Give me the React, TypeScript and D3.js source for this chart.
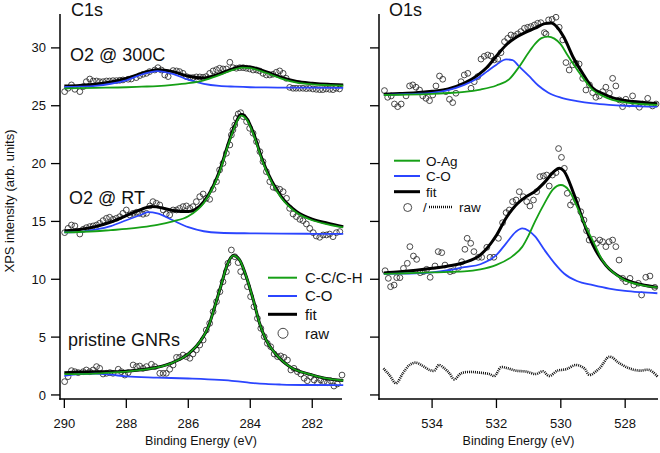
import React from "react";
import * as d3 from "d3";

type P = [number, number];

// ---------- ticks ----------
const c1sTicks = [290, 288, 286, 284, 282];
const o1sTicks = [534, 532, 530, 528];
const yTicks = [0, 5, 10, 15, 20, 25, 30];

// ---------- C1s : O2 @ 300C ----------
const c300Raw: P[] = [
  [289.99, 26.22], [289.88, 26.51], [289.77, 26.8], [289.66, 26.42], [289.5, 26.22], [289.39, 26.65],
  [289.29, 27.08], [289.18, 27.31], [289.07, 27.14], [288.96, 27.14], [288.86, 27.08], [288.75, 27.08],
  [288.64, 27.14], [288.54, 27.14], [288.43, 27.17], [288.32, 27.17], [288.21, 27.2], [288.11, 27.23],
  [287.94, 27.29], [287.84, 27.31], [287.68, 27.43], [287.57, 27.6], [287.46, 27.72], [287.35, 27.8],
  [287.25, 27.95], [287.08, 28.09], [286.98, 28.29], [286.87, 28.09], [286.76, 27.66], [286.65, 27.52],
  [286.49, 28.04], [286.38, 28.01], [286.28, 27.95], [286.17, 27.8], [286.06, 27.52], [285.95, 27.43],
  [285.85, 27.43], [285.74, 27.49], [285.63, 27.49], [285.52, 27.46], [285.42, 27.52], [285.31, 27.8],
  [285.2, 28.01], [285.09, 28.12], [284.99, 28.24], [284.88, 28.18], [284.77, 28.18], [284.66, 28.76],
  [284.56, 28.29], [284.45, 28.24], [284.34, 28.29], [284.23, 28.29], [284.13, 28.24], [284.02, 28.18],
  [283.91, 28.09], [283.8, 28.09], [283.7, 28.01], [283.59, 27.8], [283.48, 27.66], [283.37, 27.66],
  [283.27, 27.72], [283.16, 27.89], [283.05, 28.01], [282.94, 27.8], [282.84, 27.37], [282.73, 26.59],
  [282.62, 26.51], [282.52, 26.51], [282.41, 26.51], [282.3, 26.51], [282.19, 26.48], [282.09, 26.51],
  [281.98, 26.45], [281.87, 26.42], [281.76, 26.39], [281.66, 26.39], [281.55, 26.45], [281.44, 26.42],
  [281.33, 26.39], [281.23, 26.51], [281.12, 26.45],
];
const c300Fit: P[] = [
  [290, 26.7], [289.5, 26.75], [289, 26.85], [288.5, 27.05], [288, 27.35], [287.5, 27.8], [287, 28.12],
  [286.5, 27.95], [286, 27.55], [285.5, 27.4], [285, 27.75], [284.5, 28.25], [284.25, 28.4], [284, 28.35],
  [283.5, 27.95], [283, 27.45], [282.5, 27.1], [282, 26.95], [281.5, 26.85], [281, 26.8],
];
const c300CC: P[] = [
  [290, 26.5], [289, 26.55], [288, 26.6], [287.5, 26.65], [287, 26.7], [286.5, 26.8], [286, 26.95],
  [285.5, 27.2], [285, 27.65], [284.5, 28.15], [284.25, 28.3], [284, 28.25], [283.5, 27.85], [283, 27.35],
  [282.5, 27.0], [282, 26.85], [281.5, 26.78], [281, 26.73],
];
const c300CO: P[] = [
  [290, 26.62], [289.5, 26.65], [289, 26.72], [288.5, 26.9], [288, 27.2], [287.5, 27.7], [287, 28.0],
  [286.5, 27.75], [286, 27.25], [285.5, 26.9], [285, 26.72], [284.5, 26.65], [284, 26.6], [283.5, 26.58],
  [283, 26.57], [282, 26.56], [281, 26.55],
];

// ---------- C1s : O2 @ RT ----------
const cRtRaw: P[] = [
  [289.99, 14.03], [289.88, 14.4], [289.77, 14.69], [289.66, 14.61], [289.5, 13.91], [289.39, 14.32],
  [289.29, 14.46], [289.18, 14.55], [289.07, 14.61], [288.96, 14.69], [288.86, 14.84], [288.75, 15.07],
  [288.64, 15.27], [288.54, 15.36], [288.43, 15.18], [288.32, 15.27], [288.21, 15.41], [288.11, 15.7],
  [288.0, 15.99], [287.89, 15.56], [287.78, 15.7], [287.67, 15.79], [287.57, 15.7], [287.46, 15.62],
  [287.35, 15.7], [287.24, 16.34], [287.14, 16.71], [287.03, 16.57], [286.92, 16.42], [286.81, 15.99],
  [286.71, 15.64], [286.6, 15.56], [286.49, 15.99], [286.38, 15.99], [286.28, 16.13], [286.17, 16.28],
  [286.06, 16.34], [285.95, 16.13], [285.85, 16.28], [285.74, 16.71], [285.63, 17.14], [285.52, 17.37],
  [285.42, 17.0], [285.31, 16.91], [285.2, 17.78], [285.09, 18.44], [284.99, 19.45], [284.88, 20.02],
  [284.77, 20.89], [284.66, 21.61], [284.61, 22.47], [284.56, 22.91], [284.5, 23.34], [284.45, 23.92],
  [284.39, 24.29], [284.31, 24.4], [284.23, 24.06], [284.12, 23.63], [284.02, 23.05], [283.91, 22.62],
  [283.8, 21.9], [283.69, 21.03], [283.59, 20.17], [283.48, 19.3], [283.37, 18.44], [283.26, 17.95],
  [283.16, 17.86], [283.05, 17.78], [282.94, 17.57], [282.83, 17.0], [282.73, 16.13], [282.62, 15.64],
  [282.51, 15.41], [282.4, 15.18], [282.3, 15.07], [282.19, 14.78], [282.08, 14.4], [281.97, 14.03],
  [281.87, 13.74], [281.76, 13.63], [281.65, 13.83], [281.54, 13.83], [281.44, 13.91], [281.33, 13.68],
  [281.22, 14.03], [281.11, 14.12],
];
const cRtFit: P[] = [
  [290, 14.17], [289.5, 14.3], [289, 14.55], [288.5, 14.95], [288, 15.5], [287.5, 16.05], [287.2, 16.3],
  [287, 16.25], [286.5, 15.95], [286, 15.85], [285.5, 16.7], [285, 19.3], [284.7, 21.8], [284.5, 23.3],
  [284.3, 24.25], [284.1, 23.85], [283.9, 22.65], [283.6, 20.25], [283.3, 18.45], [283, 17.15],
  [282.5, 15.85], [282, 15.2], [281.5, 14.85], [281, 14.55],
];
const cRtCC: P[] = [
  [290, 14.05], [289, 14.15], [288.5, 14.25], [288, 14.35], [287.5, 14.5], [287, 14.7], [286.5, 15.0],
  [286, 15.45], [285.5, 16.6], [285, 19.2], [284.7, 21.7], [284.5, 23.2], [284.3, 24.15], [284.1, 23.75],
  [283.9, 22.55], [283.6, 20.15], [283.3, 18.35], [283, 17.05], [282.5, 15.75], [282, 15.1],
  [281.5, 14.75], [281, 14.48],
];
const cRtCO: P[] = [
  [290, 14.05], [289.5, 14.1], [289, 14.3], [288.5, 14.6], [288, 15.1], [287.5, 15.6], [287.3, 15.8],
  [287, 15.7], [286.5, 15.1], [286, 14.5], [285.5, 14.15], [285, 14.02], [284, 13.97], [283, 13.95],
  [282, 13.93], [281, 13.92],
];

// ---------- C1s : pristine GNRs ----------
const cPrRaw: P[] = [
  [289.99, 1.15], [289.88, 1.58], [289.77, 2.1], [289.66, 2.01], [289.55, 1.93], [289.39, 2.01],
  [289.29, 2.16], [289.18, 2.01], [289.07, 2.16], [288.96, 2.45], [288.86, 2.3], [288.75, 1.81],
  [288.64, 1.87], [288.53, 1.93], [288.43, 1.87], [288.26, 2.22], [288.16, 2.01], [288.05, 1.72],
  [287.94, 1.93], [287.78, 2.59], [287.67, 2.45], [287.57, 2.5], [287.46, 2.3], [287.35, 2.45],
  [287.19, 2.65], [287.08, 2.45], [286.92, 1.87], [286.81, 1.87], [286.71, 1.87], [286.6, 2.22],
  [286.49, 2.59], [286.38, 3.25], [286.28, 3.25], [286.17, 3.45], [286.06, 3.31], [285.95, 3.17],
  [285.85, 3.54], [285.74, 3.89], [285.63, 4.32], [285.52, 4.75], [285.42, 5.61], [285.31, 6.19],
  [285.2, 7.2], [285.09, 8.06], [284.98, 8.93], [284.88, 9.79], [284.77, 10.66], [284.72, 11.38],
  [284.61, 12.53], [284.5, 11.95], [284.39, 11.44], [284.31, 10.66], [284.2, 10.23], [284.09, 9.36],
  [283.99, 8.5], [283.88, 7.63], [283.77, 6.62], [283.66, 5.76], [283.55, 5.04], [283.45, 4.46],
  [283.34, 4.17], [283.23, 3.54], [283.12, 3.31], [283.02, 3.37], [282.91, 3.25], [282.8, 3.02],
  [282.69, 2.16], [282.59, 2.3], [282.48, 2.01], [282.37, 1.81], [282.26, 1.44], [282.16, 1.23],
  [282.05, 1.58], [281.94, 1.29], [281.83, 1.06], [281.73, 1.29], [281.62, 1.15], [281.51, 1.06],
  [281.41, 1.23], [281.3, 0.77], [281.19, 0.95], [281.04, 1.72],
];
const cPrFit: P[] = [
  [290, 1.93], [289.5, 1.98], [289, 2.0], [288.5, 2.0], [288, 2.05], [287.5, 2.18], [287, 2.4],
  [286.5, 2.8], [286, 3.55], [285.6, 4.7], [285.35, 5.9], [285.15, 7.6], [284.95, 9.4], [284.75, 11.2],
  [284.55, 12.05], [284.35, 11.7], [284.15, 10.4], [283.9, 8.2], [283.7, 6.2], [283.5, 4.8], [283.2, 3.6],
  [282.7, 2.4], [282.1, 1.8], [281.6, 1.45], [281, 1.25],
];
const cPrCC: P[] = [
  [290, 1.8], [289, 1.85], [288.5, 1.93], [288, 2.02], [287.5, 2.16], [287, 2.38], [286.5, 2.8],
  [286, 3.55], [285.6, 4.7], [285.35, 5.9], [285.15, 7.6], [284.95, 9.4], [284.75, 11.2], [284.55, 12.05],
  [284.35, 11.7], [284.15, 10.4], [283.9, 8.2], [283.7, 6.2], [283.5, 4.8], [283.2, 3.6], [282.7, 2.4],
  [282.1, 1.8], [281.6, 1.45], [281, 1.25],
];
const cPrCO: P[] = [
  [290, 1.65], [289.5, 1.8], [289, 1.85], [288.5, 1.75], [288, 1.6], [287, 1.5], [286, 1.42],
  [285, 1.3], [284.5, 1.2], [284, 1.05], [283.5, 0.95], [283, 0.9], [282, 0.86], [281, 0.85],
];

// ---------- O1s : top ----------
const oTopRaw: P[] = [
  [535.48, 26.31], [535.38, 25.73], [535.27, 25.85], [535.17, 25.15], [535.07, 24.92], [534.96, 25.15],
  [534.81, 25.85], [534.7, 26.71], [534.6, 26.8], [534.5, 26.6], [534.39, 26.36], [534.29, 25.85],
  [534.19, 25.64], [534.08, 25.44], [533.98, 25.93], [533.88, 26.71], [533.77, 27.57], [533.67, 27.29],
  [533.57, 26.22], [533.46, 25.56], [533.36, 25.27], [533.26, 26.08], [533.1, 27.08], [533.0, 27.66],
  [532.89, 27.8], [532.79, 26.51], [532.69, 27.08], [532.58, 27.52], [532.48, 29.03], [532.38, 29.27],
  [532.27, 29.39], [532.17, 29.3], [532.07, 28.96], [531.96, 29.03], [531.86, 29.59], [531.75, 30.54],
  [531.65, 30.83], [531.55, 31.12], [531.44, 31.03], [531.34, 31.21], [531.24, 31.41], [531.13, 31.7],
  [531.03, 31.78], [530.93, 31.84], [530.82, 31.98], [530.72, 32.13], [530.62, 32.18], [530.51, 31.32],
  [530.46, 31.21], [530.38, 32.42], [530.27, 32.47], [530.15, 32.65], [530.05, 31.78], [529.94, 30.69],
  [529.84, 28.73], [529.74, 28.09], [529.63, 28.53], [529.53, 28.67], [529.43, 28.61], [529.32, 27.37],
  [529.22, 26.36], [529.11, 26.8], [529.01, 26.13], [528.91, 25.73], [528.8, 25.85], [528.7, 26.22],
  [528.6, 26.6], [528.49, 26.08], [528.39, 27.37], [528.29, 26.71], [528.18, 25.5], [528.08, 24.92],
  [527.98, 25.56], [527.87, 25.15], [527.77, 25.85], [527.67, 25.15], [527.56, 24.87], [527.46, 25.15],
  [527.3, 25.64], [527.15, 24.98], [527.04, 25.15],
];
const oTopFit: P[] = [
  [535.5, 26.0], [535, 26.05], [534.5, 26.12], [534, 26.25], [533.5, 26.45], [533, 26.95], [532.6, 27.6],
  [532.3, 28.3], [532, 29.3], [531.7, 30.25], [531.4, 30.9], [531.1, 31.35], [530.8, 31.7], [530.5, 32.1],
  [530.3, 32.15], [530.1, 31.75], [529.9, 30.9], [529.6, 29.1], [529.3, 27.7], [529, 26.5], [528.7, 26.05],
  [528.4, 25.7], [528, 25.45], [527.5, 25.3], [527, 25.16],
];
const oTopOAg: P[] = [
  [535.5, 25.93], [535, 25.95], [534, 26.02], [533.5, 26.1], [533, 26.2], [532.5, 26.4], [532, 26.75],
  [531.6, 27.3], [531.3, 28.35], [531, 29.6], [530.8, 30.35], [530.6, 30.85], [530.4, 30.98], [530.2, 30.8],
  [530, 30.3], [529.8, 29.4], [529.5, 28.15], [529.2, 27.0], [529, 26.35], [528.7, 25.85], [528.4, 25.5],
  [528, 25.3], [527.5, 25.15], [527, 25.07],
];
const oTopCO: P[] = [
  [535.5, 25.93], [535, 25.98], [534.5, 26.03], [534, 26.12], [533.5, 26.35], [533, 26.8], [532.6, 27.35],
  [532.3, 27.95], [532, 28.55], [531.7, 29.0], [531.5, 28.95], [531.3, 28.4], [531, 27.6], [530.7, 26.75],
  [530.4, 26.15], [530, 25.7], [529.5, 25.4], [529, 25.2], [528.5, 25.08], [528, 25.0], [527.5, 24.95],
  [527, 24.93],
];

// ---------- O1s : middle ----------
const oMidRaw: P[] = [
  [535.46, 10.74], [535.36, 10.08], [535.29, 9.36], [535.18, 9.5], [535.1, 10.14], [535.0, 10.14],
  [534.89, 10.94], [534.77, 11.38], [534.69, 12.82], [534.58, 12.01], [534.48, 11.72], [534.37, 10.57],
  [534.27, 10.66], [534.17, 10.86], [534.06, 10.17], [533.91, 11.15], [533.81, 12.39], [533.7, 12.3],
  [533.6, 11.23], [533.44, 10.66], [533.34, 10.74], [533.18, 11.03], [533.08, 11.52], [532.98, 12.59],
  [532.91, 13.54], [532.8, 13.11], [532.7, 12.39], [532.56, 11.9], [532.46, 11.9], [532.3, 12.76],
  [532.2, 11.9], [532.08, 11.9], [531.94, 13.54], [531.81, 14.89], [531.7, 15.76], [531.6, 15.99],
  [531.5, 16.71], [531.39, 16.85], [531.29, 17.57], [531.17, 17.14], [531.06, 16.71], [530.96, 16.33],
  [530.85, 16.85], [530.75, 17.57], [530.65, 18.87], [530.54, 18.93], [530.44, 19.01], [530.36, 18.06],
  [530.26, 19.01], [530.15, 19.22], [530.07, 21.3], [529.98, 20.54], [529.89, 19.59], [529.8, 17.43],
  [529.7, 16.42], [529.61, 16.71], [529.51, 16.85], [529.38, 15.84], [529.28, 15.12], [529.2, 14.2],
  [529.12, 13.39], [528.99, 13.45], [528.89, 13.11], [528.79, 13.39], [528.7, 13.25], [528.6, 12.82],
  [528.5, 13.25], [528.39, 13.39], [528.29, 12.82], [528.19, 11.66], [528.08, 10.08], [527.98, 9.79],
  [527.85, 10.08], [527.73, 9.5], [527.59, 9.65], [527.49, 8.64], [527.36, 10.17], [527.23, 10.28],
  [527.08, 9.3],
];
const oMidFit: P[] = [
  [535.5, 10.55], [535, 10.65], [534, 10.95], [533.5, 11.15], [533, 11.45], [532.5, 12.1], [532, 13.8],
  [531.7, 15.3], [531.4, 16.4], [531.1, 17.1], [530.8, 17.6], [530.5, 18.4], [530.2, 19.35], [530.05, 19.6],
  [529.9, 19.35], [529.6, 17.4], [529.3, 15.0], [529, 12.95], [528.6, 11.2], [528.1, 10.1], [527.5, 9.55],
  [527, 9.3],
];
const oMidOAg: P[] = [
  [535.5, 10.46], [535, 10.5], [534, 10.6], [533, 10.68], [532.5, 10.85], [532, 11.24], [531.5, 12.0],
  [531.2, 12.8], [531, 13.8], [530.8, 15.0], [530.5, 16.6], [530.25, 17.75], [530, 18.15], [529.75, 17.7],
  [529.5, 16.3], [529.2, 14.4], [529, 13.3], [528.7, 11.6], [528.4, 10.65], [528, 9.9], [527.5, 9.5],
  [527, 9.3],
];
const oMidCO: P[] = [
  [535.5, 10.46], [535, 10.48], [534.5, 10.52], [534, 10.6], [533.5, 10.78], [533, 11.05], [532.5, 11.3],
  [532, 12.1], [531.7, 13.1], [531.4, 14.1], [531.2, 14.4], [531, 14.2], [530.8, 13.7], [530.5, 12.5],
  [530.2, 11.4], [529.9, 10.5], [529.5, 9.85], [529, 9.5], [528.5, 9.2], [528, 9.0], [527.5, 8.88],
  [527, 8.79],
];

// ---------- O1s : bottom (pristine, dotted raw) ----------
const oBotRaw: P[] = [
  [535.51, 2.3], [535.33, 1.73], [535.12, 1.01], [534.91, 1.87], [534.7, 2.59], [534.5, 2.79],
  [534.29, 2.51], [534.08, 2.16], [533.93, 2.1], [533.79, 2.59], [533.62, 2.3], [533.46, 1.87],
  [533.31, 1.35], [533.1, 1.87], [532.84, 1.99], [532.53, 1.93], [532.22, 1.81], [532.06, 1.64],
  [531.86, 2.39], [531.65, 2.3], [531.39, 2.1], [531.08, 2.02], [530.77, 1.81], [530.56, 2.05],
  [530.36, 1.64], [530.1, 2.1], [529.84, 2.22], [529.53, 2.59], [529.27, 2.3], [529.11, 1.73],
  [528.8, 2.3], [528.49, 3.31], [528.18, 2.74], [527.87, 2.3], [527.56, 2.1], [527.25, 2.16],
  [526.99, 1.58],
];

const c1sLegend = ["C-C/C-H", "C-O", "fit", "raw"];
const o1sLegend = ["O-Ag", "C-O", "fit", "raw"];

const GREEN = "#16a016";
const BLUE = "#2b45ff";
const FONT = "'Liberation Sans', Arial, Helvetica, sans-serif";

export default function App() {
  const W = 660, H = 453;
  const yTop = 14, yBot = 399;
  const y = d3.scaleLinear().domain([-0.35, 32.93]).range([yBot, yTop]);
  const xL = d3.scaleLinear().domain([290.14, 281.04]).range([60, 342]);
  const xR = d3.scaleLinear().domain([535.65, 526.98]).range([379, 658]);

  const mkLine = (xs: d3.ScaleLinear<number, number>) =>
    d3.line<P>().x((d) => xs(d[0])).y((d) => y(d[1])).curve(d3.curveMonotoneX);
  const lineL = mkLine(xL);
  const lineR = mkLine(xR);
  const lineRaw = d3.line<P>().x((d) => xR(d[0])).y((d) => y(d[1])).curve(d3.curveCatmullRom.alpha(0.5));

  const circles = (data: P[], xs: d3.ScaleLinear<number, number>, key: string) =>
    data.map((d, i) => (
      <circle key={key + i} cx={xs(d[0])} cy={y(d[1])} r={2.9} fill="none" stroke="#2a2a2a" strokeWidth={0.85} />
    ));

  const fitGroup = (fit: P[], green: P[], blue: P[], ln: d3.Line<P>) => (
    <g fill="none">
      <path d={ln(fit) || ""} stroke="#000" strokeWidth={3} />
      <path d={ln(blue) || ""} stroke={BLUE} strokeWidth={1.8} />
      <path d={ln(green) || ""} stroke={GREEN} strokeWidth={1.8} />
    </g>
  );

  const axisY = (x0: number, labels: boolean) => (
    <g>
      <line x1={x0} x2={x0} y1={yTop} y2={yBot + 0.75} stroke="#000" strokeWidth={1.5} />
      {yTicks.map((t) => (
        <g key={"yt" + x0 + t}>
          <line x1={x0 - 9} x2={x0} y1={y(t)} y2={y(t)} stroke="#000" strokeWidth={1.3} />
          {labels && (
            <text x={x0 - 14} y={y(t) + 4.6} textAnchor="end" fontSize={13} fontFamily={FONT} fill="#111">
              {t}
            </text>
          )}
        </g>
      ))}
    </g>
  );

  const axisX = (xs: d3.ScaleLinear<number, number>, ticks: number[], x0: number, x1: number) => (
    <g>
      <line x1={x0 - 0.75} x2={x1} y1={yBot} y2={yBot} stroke="#000" strokeWidth={1.5} />
      {ticks.map((t) => (
        <g key={"xt" + t}>
          <line x1={xs(t)} x2={xs(t)} y1={yBot} y2={yBot + 9} stroke="#000" strokeWidth={1.3} />
          <text x={xs(t)} y={yBot + 29} textAnchor="middle" fontSize={13} fontFamily={FONT} fill="#111">
            {t}
          </text>
        </g>
      ))}
      <text x={(x0 + x1) / 2} y={445} textAnchor="middle" fontSize={12.5} fontFamily={FONT} fill="#111">
        Binding Energy (eV)
      </text>
    </g>
  );

  return (
    <svg width={W} height={H} style={{ position: "absolute", left: 0, top: 0, background: "#fff" }}>
      <rect width={W} height={H} fill="#fff" />
      {/* raw points */}
      {circles(c300Raw, xL, "a")}
      {circles(cRtRaw, xL, "b")}
      {circles(cPrRaw, xL, "c")}
      {circles(oTopRaw, xR, "d")}
      {circles(oMidRaw, xR, "e")}
      {/* fits */}
      {fitGroup(c300Fit, c300CC, c300CO, lineL)}
      {fitGroup(cRtFit, cRtCC, cRtCO, lineL)}
      {fitGroup(cPrFit, cPrCC, cPrCO, lineL)}
      {fitGroup(oTopFit, oTopOAg, oTopCO, lineR)}
      {fitGroup(oMidFit, oMidOAg, oMidCO, lineR)}
      <path d={lineRaw(oBotRaw) || ""} fill="none" stroke="#111" strokeWidth={2.6} strokeDasharray="1,1" />

      {/* axes */}
      {axisY(60, true)}
      {axisY(379, false)}
      {axisX(xL, c1sTicks, 60, 342)}
      {axisX(xR, o1sTicks, 379, 658)}

      <text x={10} y={201} transform="rotate(-90 10 201)" dy={4} textAnchor="middle" fontSize={13} fontFamily={FONT} fill="#111">
        XPS intensity (arb. units)
      </text>

      {/* panel labels */}
      <g fontFamily={FONT} fontSize={18} fill="#111">
        <text x={71} y={16}>C1s</text>
        <text x={389} y={16}>O1s</text>
        <text x={70} y={61}>O2 @ 300C</text>
        <text x={69} y={204}>O2 @ RT</text>
        <text x={68} y={346}>pristine GNRs</text>
      </g>

      {/* left legend */}
      <g fontFamily={FONT} fontSize={15} fill="#111">
        <line x1={268} x2={297} y1={277.7} y2={277.7} stroke={GREEN} strokeWidth={2} />
        <text x={305} y={283}>{c1sLegend[0]}</text>
        <line x1={268} x2={297} y1={296} y2={296} stroke={BLUE} strokeWidth={2} />
        <text x={305} y={301.3}>{c1sLegend[1]}</text>
        <line x1={268} x2={297} y1={314.3} y2={314.3} stroke="#000" strokeWidth={3} />
        <text x={305} y={319.6}>{c1sLegend[2]}</text>
        <circle cx={283} cy={333.3} r={5} fill="none" stroke="#333" strokeWidth={0.9} />
        <text x={305} y={338.6}>{c1sLegend[3]}</text>
      </g>

      {/* right legend */}
      <g fontFamily={FONT} fontSize={13.5} fill="#111">
        <line x1={394} x2={420} y1={160.7} y2={160.7} stroke={GREEN} strokeWidth={2} />
        <text x={426} y={165.5}>{o1sLegend[0]}</text>
        <line x1={394} x2={420} y1={176} y2={176} stroke={BLUE} strokeWidth={2} />
        <text x={426} y={180.8}>{o1sLegend[1]}</text>
        <line x1={394} x2={420} y1={191.7} y2={191.7} stroke="#000" strokeWidth={3} />
        <text x={426} y={196.5}>{o1sLegend[2]}</text>
        <circle cx={407.7} cy={207.5} r={4} fill="none" stroke="#333" strokeWidth={0.9} />
        <text x={423} y={212.3}>/</text>
        <line x1={429} x2={453} y1={207} y2={207} stroke="#111" strokeWidth={2.4} strokeDasharray="1,1" />
        <text x={459} y={212.3}>{o1sLegend[3]}</text>
      </g>
    </svg>
  );
}
